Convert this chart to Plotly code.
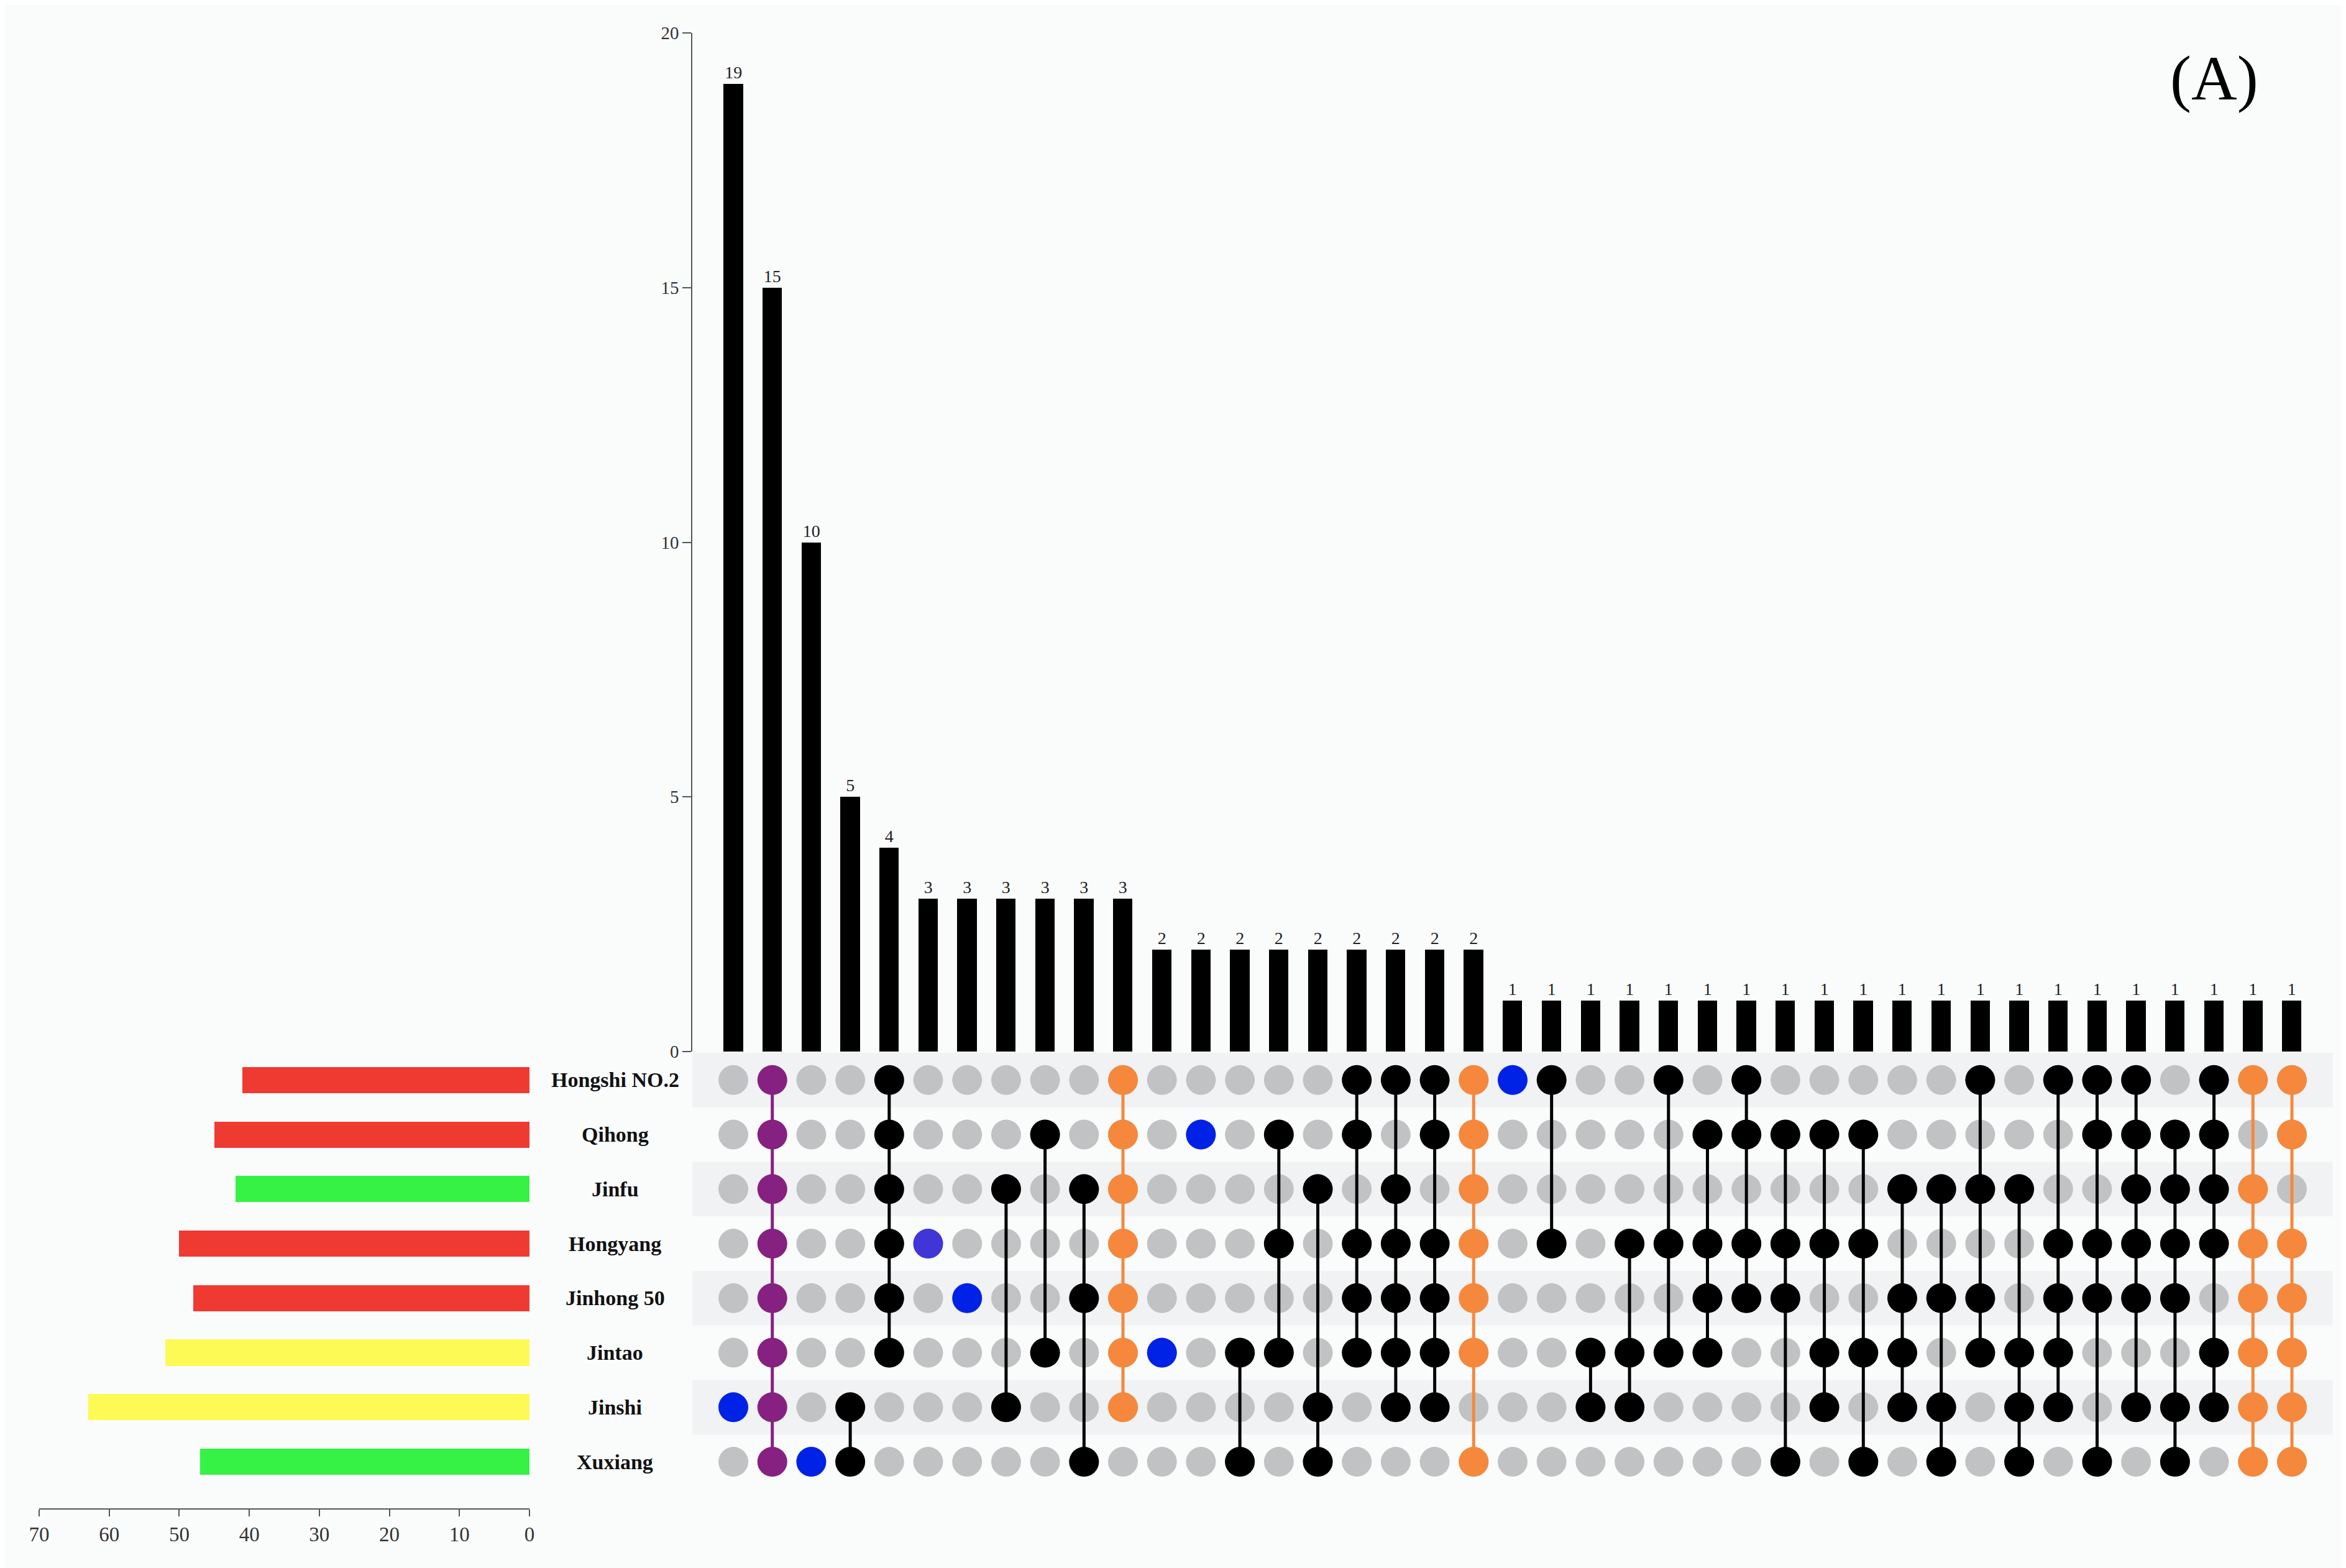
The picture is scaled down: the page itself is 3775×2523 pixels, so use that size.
import plotly.graph_objects as go

# ---------------- data ----------------
sets = ["Hongshi NO.2", "Qihong", "Jinfu", "Hongyang", "Jinhong 50", "Jintao", "Jinshi", "Xuxiang"]
set_sizes = [41, 45, 42, 50, 48, 52, 63, 47]

counts = [19, 15, 10, 5, 4, 3, 3, 3, 3, 3, 3, 2, 2, 2, 2, 2, 2, 2, 2, 2,
          1, 1, 1, 1, 1, 1, 1, 1, 1, 1, 1, 1, 1, 1, 1, 1, 1, 1, 1, 1, 1]

# set membership of each intersection (indices into `sets`)
members = [
    [6], [0, 1, 2, 3, 4, 5, 6, 7], [7], [6, 7], [0, 1, 2, 3, 4, 5], [3], [4],
    [2, 6], [1, 5], [2, 4, 7], [0, 1, 2, 3, 4, 5, 6], [5], [1], [5, 7],
    [1, 3, 5], [2, 6, 7], [0, 1, 3, 4, 5], [0, 2, 3, 4, 5, 6], [0, 1, 3, 4, 5, 6],
    [0, 1, 2, 3, 4, 5, 7], [0], [0, 3], [5, 6], [3, 5, 6], [0, 3, 5], [1, 3, 4, 5],
    [0, 1, 3, 4], [1, 3, 4, 7], [1, 3, 5, 6], [1, 3, 5, 7], [2, 4, 5, 6],
    [2, 4, 6, 7], [0, 2, 4, 5], [2, 5, 6, 7], [0, 3, 4, 5, 6], [0, 1, 3, 4, 7],
    [0, 1, 2, 3, 4, 6], [1, 2, 3, 4, 6, 7], [0, 1, 2, 3, 5, 6],
    [0, 2, 3, 4, 5, 6, 7], [0, 1, 3, 4, 5, 6, 7],
]

# ---------------- styles ----------------
RED, GREEN, YELLOW = "#ef3a32", "#35f245", "#fdf955"
set_colors = [RED, RED, GREEN, RED, RED, YELLOW, YELLOW, GREEN]

BLUE, BLUE2, PURPLE, ORANGE, BLACK = "#0022e6", "#4035d6", "#862181", "#f5883c", "#000000"
col_colors = ([BLUE, PURPLE, BLUE, BLACK, BLACK, BLUE2, BLUE] + [BLACK] * 3 + [ORANGE]
              + [BLUE, BLUE] + [BLACK] * 6 + [ORANGE] + [BLUE] + [BLACK] * 18 + [ORANGE, ORANGE])
GRAY_DOT = "#c1c2c3"
BAND = "#f0f2f3"
BG = "#fafcfc"
FONT = "Liberation Serif, Times New Roman, serif"

W, H = 3775, 2523
OFF = 8  # page body margin


def fx(px):
    return (px - OFF) / W


def fy(py):
    return 1 - (py - OFF) / H


n_cols = len(counts)
cols = list(range(n_cols))

fig = go.Figure()

# top intersection bars
fig.add_trace(go.Bar(
    x=cols, y=counts, width=0.5, marker=dict(color="#000000", line=dict(width=0)),
    text=[str(c) for c in counts], textposition="outside", constraintext="none",
    textfont=dict(family=FONT, size=28, color="#222222"), cliponaxis=False,
    xaxis="x", yaxis="y", showlegend=False, hoverinfo="skip"))

# matrix gray dots
gx, gy = [], []
for c in cols:
    for r in range(len(sets)):
        gx.append(c)
        gy.append(r)
fig.add_trace(go.Scatter(
    x=gx, y=gy, mode="markers", marker=dict(size=48, color=GRAY_DOT),
    xaxis="x", yaxis="y2", showlegend=False, hoverinfo="skip"))

# active dots + connectors
for c in cols:
    rows = sorted(members[c])
    fig.add_trace(go.Scatter(
        x=[c] * len(rows), y=rows, mode="lines+markers",
        line=dict(color=col_colors[c], width=5),
        marker=dict(size=48, color=col_colors[c]),
        xaxis="x", yaxis="y2", showlegend=False, hoverinfo="skip"))

# left set-size bars
fig.add_trace(go.Bar(
    x=set_sizes, y=list(range(len(sets))), orientation="h", width=0.48,
    marker=dict(color=set_colors, line=dict(width=0)),
    xaxis="x3", yaxis="y3", showlegend=False, hoverinfo="skip"))

# row shading bands
shapes = []
for r in range(len(sets)):
    if r % 2 == 0:
        shapes.append(dict(type="rect", xref="x", yref="y2", x0=-1.05, x1=n_cols + 0.05,
                           y0=r - 0.5, y1=r + 0.5, fillcolor=BAND, line=dict(width=0),
                           layer="below"))

# set labels
annotations = []
for r, name in enumerate(sets):
    annotations.append(dict(x=fx(990), xref="paper", y=r, yref="y2", text="<b>" + name + "</b>",
                            showarrow=False, xanchor="center", yanchor="middle",
                            font=dict(family=FONT, size=34, color="#111111")))
annotations.append(dict(x=fx(3563), y=fy(125), xref="paper", yref="paper", text="(A)",
                        showarrow=False, xanchor="center", yanchor="middle",
                        font=dict(family=FONT, size=102, color="#000000")))

fig.update_layout(
    width=W, height=H, margin=dict(l=0, r=0, t=0, b=0, autoexpand=False),
    paper_bgcolor=BG, plot_bgcolor="rgba(0,0,0,0)",
    shapes=shapes, annotations=annotations, bargap=0,
    xaxis=dict(domain=[fx(1114.2), fx(3753.8)], range=[-1.05, n_cols + 0.05], showticklabels=False,
               showline=False, showgrid=False, zeroline=False, ticks="", anchor="y",
               automargin=False),
    yaxis=dict(domain=[fy(1692), fy(53)], range=[0, 20], tickvals=[0, 5, 10, 15, 20],
               ticks="outside", ticklen=14, tickwidth=2, tickcolor="#555555",
               showline=True, linecolor="#555555", linewidth=2, showgrid=False, zeroline=False,
               tickfont=dict(family=FONT, size=29, color="#333333"), anchor="x",
               automargin=False),
    yaxis2=dict(domain=[fy(2396), fy(1694)], range=[7.5, -0.5], showticklabels=False,
                showline=False, showgrid=False, zeroline=False, ticks="", anchor="x",
                automargin=False),
    xaxis3=dict(domain=[fx(63), fx(852)], range=[70, 0], tickvals=[0, 10, 20, 30, 40, 50, 60, 70],
                ticks="outside", ticklen=11, tickwidth=2, tickcolor="#555555",
                showline=True, linecolor="#555555", linewidth=2, showgrid=False, zeroline=False,
                tickfont=dict(family=FONT, size=33, color="#333333"), anchor="y3",
                automargin=False),
    yaxis3=dict(domain=[fy(2427), fy(1694)], range=[7.856, -0.5], showticklabels=False,
                showline=False, showgrid=False, zeroline=False, ticks="", anchor="x3",
                automargin=False),
)

fig.write_html("out.html")
